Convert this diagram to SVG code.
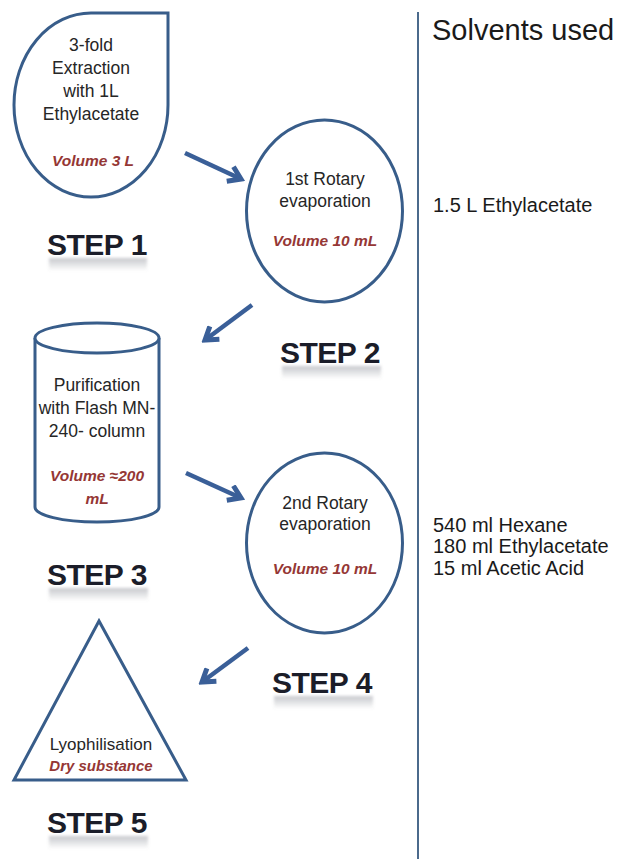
<svg xmlns="http://www.w3.org/2000/svg" width="622" height="859" viewBox="0 0 622 859">
  <style>
    .shape { fill: #ffffff; stroke: #385d8a; stroke-width: 3; }
    .lbl { font-family: "Liberation Sans", Arial, sans-serif; font-size: 17.5px; fill: #262626; text-anchor: middle; }
    .vol { font-family: "Liberation Sans", Arial, sans-serif; font-size: 15.5px; font-weight: bold; font-style: italic; fill: #953735; text-anchor: middle; }
    .step { font-family: "Liberation Sans", Arial, sans-serif; font-size: 30px; font-weight: bold; fill: #1b1d29; letter-spacing: -0.5px; }
    .refl { fill: url(#fade); filter: url(#blur); }
    .solv { font-family: "Liberation Sans", Arial, sans-serif; font-size: 20px; fill: #1a1a1a; }
    .arrow { stroke: #3a5f98; stroke-width: 4.5; fill: none; marker-end: url(#head); }
  </style>
  <defs>
    <marker id="head" viewBox="0 0 20 20" refX="16" refY="10" markerWidth="20" markerHeight="20" markerUnits="userSpaceOnUse" orient="auto">
      <polyline points="4,2 16,10 4,18" fill="none" stroke="#3a5f98" stroke-width="5" stroke-linejoin="miter"/>
    </marker>
    <linearGradient id="fade" x1="0" y1="0" x2="0" y2="1">
      <stop offset="0" stop-color="#6a6f7a" stop-opacity="0.38"/>
      <stop offset="1" stop-color="#6a6f7a" stop-opacity="0"/>
    </linearGradient>
    <filter id="blur" x="-10%" y="-50%" width="120%" height="200%">
      <feGaussianBlur stdDeviation="1.5"/>
    </filter>
  </defs>

  <rect x="0" y="0" width="622" height="859" fill="#ffffff"/>

  <!-- divider -->
  <line x1="418" y1="12" x2="418" y2="859" stroke="#4b6a8c" stroke-width="2"/>

  <g id="connectors">
    <line class="arrow" x1="185" y1="153" x2="241" y2="179"/>
    <line class="arrow" x1="252" y1="305" x2="205" y2="340"/>
    <line class="arrow" x1="186" y1="473" x2="241" y2="498"/>
    <line class="arrow" x1="248" y1="648" x2="202" y2="682"/>
  </g>

  <g id="step1">
    <path class="shape" d="M 168 13 L 168 105 A 77 92 0 1 1 91 13 Z"/>
    <text class="lbl" x="91" y="51">3-fold</text>
    <text class="lbl" x="91" y="74">Extraction</text>
    <text class="lbl" x="91" y="97">with 1L</text>
    <text class="lbl" x="91" y="120">Ethylacetate</text>
    <text class="vol" x="93" y="166">Volume 3 L</text>
    <rect class="refl" x="49" y="258" width="98" height="13"/>
    <text class="step" x="47" y="255">STEP 1</text>
  </g>

  <g id="step2">
    <ellipse class="shape" cx="324.5" cy="211" rx="78" ry="91"/>
    <text class="lbl" x="325" y="185">1st Rotary</text>
    <text class="lbl" x="325" y="207">evaporation</text>
    <text class="vol" x="325" y="246">Volume 10 mL</text>
    <rect class="refl" x="282" y="366" width="99" height="13"/>
    <text class="step" x="280" y="363">STEP 2</text>
  </g>

  <g id="step3">
    <path class="shape" d="M 35 338 L 35 507 A 62 15 0 0 0 159 507 L 159 338"/>
    <ellipse class="shape" cx="97" cy="338" rx="62" ry="15"/>
    <text class="lbl" x="97" y="391">Purification</text>
    <text class="lbl" x="97" y="414">with Flash MN-</text>
    <text class="lbl" x="97" y="437">240- column</text>
    <text class="vol" x="97" y="481">Volume ≈200</text>
    <text class="vol" x="97" y="504">mL</text>
    <rect class="refl" x="49" y="588" width="99" height="13"/>
    <text class="step" x="47" y="585">STEP 3</text>
  </g>

  <g id="step4">
    <ellipse class="shape" cx="324.5" cy="543" rx="78" ry="90"/>
    <text class="lbl" x="325" y="509">2nd Rotary</text>
    <text class="lbl" x="325" y="530">evaporation</text>
    <text class="vol" x="325" y="574">Volume 10 mL</text>
    <rect class="refl" x="274" y="696" width="99" height="13"/>
    <text class="step" x="272" y="693">STEP 4</text>
  </g>

  <g id="step5">
    <polygon class="shape" points="99,621 14,780 186,780"/>
    <text class="lbl" x="101" y="750" style="font-size:17px">Lyophilisation</text>
    <text class="vol" x="101" y="771" style="font-size:15px">Dry substance</text>
    <rect class="refl" x="49" y="836" width="99" height="13"/>
    <text class="step" x="47" y="833">STEP 5</text>
  </g>

  <g id="solvents">
    <text class="solv" x="432" y="40" style="font-size:29px">Solvents used</text>
    <text class="solv" x="433" y="212">1.5 L Ethylacetate</text>
    <text class="solv" x="433" y="532">540 ml Hexane</text>
    <text class="solv" x="433" y="553">180 ml Ethylacetate</text>
    <text class="solv" x="433" y="575">15 ml Acetic Acid</text>
  </g>
</svg>
